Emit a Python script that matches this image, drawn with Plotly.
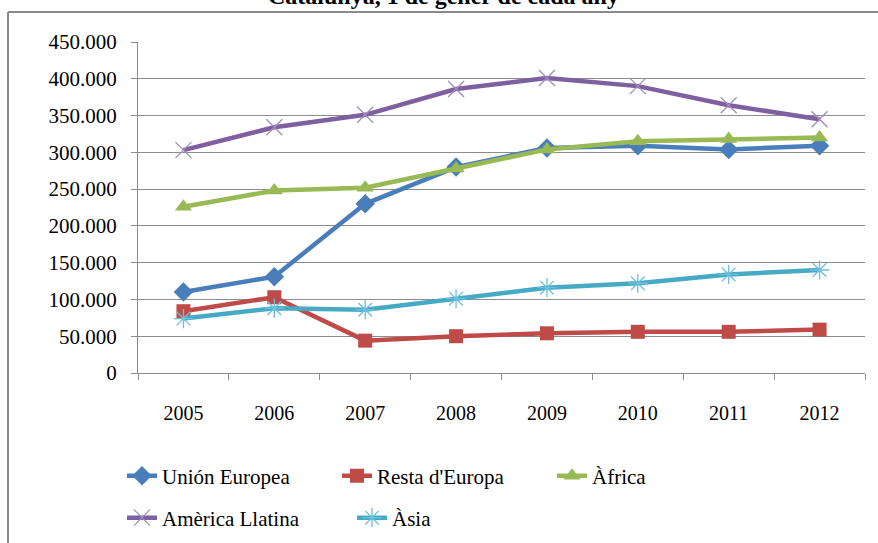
import plotly.graph_objects as go

years = ["2005", "2006", "2007", "2008", "2009", "2010", "2011", "2012"]
union_europea = [110000, 131000, 230000, 280000, 306000, 309000, 304000, 309000]
resta_europa = [84000, 103000, 44000, 50000, 54000, 56000, 56000, 59000]
africa = [226000, 248000, 252000, 278000, 304000, 315000, 318000, 320000]
america_llatina = [303000, 334000, 351000, 386000, 401000, 390000, 364000, 345000]
asia = [74000, 88000, 86000, 101000, 116000, 122000, 134000, 140000]

series_names = ["Unión Europea", "Resta d'Europa", "Àfrica", "Amèrica Llatina", "Àsia"]
colors = ["#4A7EBB", "#BE4B48", "#98B954", "#7D60A0", "#46AAC5"]

W, H = 878, 543
L, R, T, B = 138, 13, 42, 170
pw, ph = W - L - R, H - T - B
FONT = "Liberation Serif, Times New Roman, serif"

fig = go.Figure()
data = [union_europea, resta_europa, africa, america_llatina, asia]
markers = [
    dict(symbol="diamond", size=15, color=colors[0]),
    dict(symbol="square", size=14, color=colors[1]),
    dict(symbol="triangle-up", size=15, color=colors[2]),
    dict(symbol="x-thin", size=16, color=colors[3], line=dict(color="#A08CC0", width=1.3)),
    dict(symbol="asterisk", size=16, color=colors[4], line=dict(color="#6CC0DA", width=1.3)),
]
legends = ["legend", "legend", "legend", "legend2", "legend2"]
for name, vals, col, mk, lg in zip(series_names, data, colors, markers, legends):
    fig.add_trace(go.Scatter(
        x=years, y=vals, name=name, mode="lines+markers",
        line=dict(color=col, width=4.5), marker=mk, legend=lg,
    ))

legend_common = dict(
    orientation="h", xanchor="left", yanchor="middle",
    xref="container", yref="container",
    font=dict(family=FONT, size=21, color="#000000"),
    bgcolor="rgba(0,0,0,0)", itemwidth=30, tracegroupgap=0,
    entrywidthmode="pixels",
)
fig.update_layout(
    width=W, height=H,
    margin=dict(l=L, r=R, t=T, b=B, pad=0, autoexpand=False),
    paper_bgcolor="white", plot_bgcolor="white",
    separators=",.",
    showlegend=True,
    legend=dict(x=122 / W, y=1 - 476 / H, entrywidth=170, **legend_common),
    legend2=dict(x=122 / W, y=1 - 518 / H, entrywidth=185, **legend_common),
    font=dict(family=FONT, size=20, color="#000000"),
)
fig.update_yaxes(
    range=[0, 450000], dtick=50000, tickformat=",d",
    showgrid=True, gridcolor="#8C8C8C", gridwidth=1,
    showline=True, linecolor="#8C8C8C", linewidth=1,
    ticks="outside", ticklen=6, tickcolor="#8C8C8C",
    ticklabelstandoff=10, zeroline=False,
    tickfont=dict(family=FONT, size=21, color="#000000"),
)
fig.update_xaxes(
    type="category", range=[-0.5, 7.5],
    showgrid=False, showline=True, linecolor="#8C8C8C", linewidth=1,
    ticks="outside", ticklen=6, tickcolor="#8C8C8C", tickson="boundaries",
    ticklabelstandoff=22,
    tickfont=dict(family=FONT, size=20, color="#000000"),
)

# Title (cut off at top as in reference)
fig.add_annotation(
    text="<b>Catalunya, 1 de gener de cada any</b>",
    xref="paper", yref="paper",
    x=(443 - L) / pw, y=1 + (T - 11) / ph,
    xanchor="center", yanchor="bottom", showarrow=False,
    font=dict(family=FONT, size=24, color="#000000"),
)
# Outer chart frame (top and left edges visible)
fig.add_shape(type="line", xref="paper", yref="paper",
              x0=(8 - L) / pw, x1=(W - L) / pw, y0=1 + (T - 12) / ph, y1=1 + (T - 12) / ph,
              line=dict(color="#8A8A8A", width=2))
fig.add_shape(type="line", xref="paper", yref="paper",
              x0=(8 - L) / pw, x1=(8 - L) / pw, y0=1 + (T - 12) / ph, y1=(373 - H) / ph,
              line=dict(color="#8A8A8A", width=2))

fig.write_html(
    "out.html",
    config={"displayModeBar": False},
    post_script="document.body.style.margin='0';document.body.style.overflow='hidden';",
)
